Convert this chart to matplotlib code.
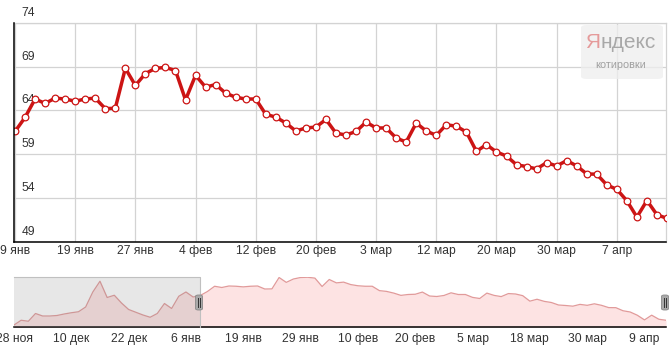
import matplotlib
matplotlib.use('Agg')
import matplotlib.pyplot as plt
from matplotlib.patches import FancyBboxPatch, Rectangle
import matplotlib.transforms as mtransforms

# ---------------- data ----------------
main_values = [61.6, 63.2, 65.3, 64.8, 65.4, 65.3, 65.05, 65.3, 65.4, 64.2,
               64.25, 68.8, 66.85, 68.2, 68.8, 68.9, 68.55, 65.2, 68.0, 66.65,
               66.95, 65.97, 65.5, 65.3, 65.3, 63.55, 63.24, 62.56, 61.65, 62.0,
               62.1, 62.97, 61.4, 61.2, 61.6, 62.67, 62.0, 62.0, 60.85, 60.4,
               62.56, 61.65, 61.16, 62.37, 62.2, 61.54, 59.34, 60.1, 59.26, 58.8,
               57.8, 57.6, 57.33, 58.05, 57.67, 58.28, 57.67, 56.76, 56.73, 55.5,
               55.0, 53.7, 51.84, 53.73, 52.1, 51.7]
pre_values = [49.8, 51.7, 51.3, 54.4, 53.4, 53.4, 53.6, 54.2, 54.7, 55.1,
              57.0, 63.0, 67.3, 60.8, 61.7, 58.6, 56.0, 54.9, 53.8, 52.9,
              54.4, 58.4, 56.4, 61.3, 63.0, 61.0]
main_tick_labels = ['9 янв', '19 янв', '27 янв', '4 фев', '12 фев', '20 фев',
                    '3 мар', '12 мар', '20 мар', '30 мар', '7 апр']
main_tick_step = 6
y_ticks = [49, 54, 59, 64, 69, 74]
nav_tick_labels = ['28 ноя', '10 дек', '22 дек', '6 янв', '19 янв', '29 янв',
                   '10 фев', '20 фев', '5 мар', '18 мар', '30 мар', '9 апр']
nav_tick_step = 8

# ---------------- style ----------------
W, H = 672, 352
FONT = ['Liberation Sans', 'DejaVu Sans']
plt.rcParams['font.family'] = FONT
TXT = '#333333'
GRID = '#d3d3d3'
RED = '#cc1414'

def fx(px):
    return px / W

def fy(py):
    return 1 - py / H

fig = plt.figure(figsize=(W / 100, H / 100), dpi=100)

# ---------------- main chart ----------------
ax = fig.add_axes([fx(14), fy(242), fx(666) - fx(14), fy(22.7) - fy(242)])
xs = list(range(len(main_values)))
ax.plot(xs, main_values, color=RED, lw=2.5, zorder=3, solid_joinstyle='round',
        marker='o', ms=4.8, mfc='white', mec=RED, mew=0.9)
ax.set_xlim(-0.1, 64.9)
ax.set_ylim(49, 74)
tick_pos = [i * main_tick_step for i in range(len(main_tick_labels))]
ax.set_xticks(tick_pos)
ax.set_xticklabels(main_tick_labels, fontsize=8.7, color=TXT)
ax.tick_params(axis='x', length=0, pad=2.5)
ax.set_yticks(y_ticks)
ax.set_yticklabels([])
ax.tick_params(axis='y', length=0)
ax.grid(True, color=GRID, lw=0.9, zorder=0)
for s in ['top', 'right']:
    ax.spines[s].set_color(GRID)
    ax.spines[s].set_linewidth(0.9)
for s in ['left', 'bottom']:
    ax.spines[s].set_color('black')
    ax.spines[s].set_linewidth(1.1)
    ax.spines[s].set_zorder(4)

trans = mtransforms.offset_copy(ax.get_yaxis_transform(), fig=fig, x=7.5 * 0.72, y=4 * 0.72, units='points')
for v in y_ticks:
    ax.text(0, v, str(v), transform=trans, ha='left', va='bottom',
            fontsize=8.7, color=TXT, zorder=2, clip_on=False)

# logo
box = FancyBboxPatch((fx(581), fy(79)), fx(663) - fx(581), fy(25) - fy(79),
                     boxstyle='round,pad=0,rounding_size=0.008',
                     transform=fig.transFigure, facecolor='#eeeeee', alpha=0.75,
                     edgecolor='none', zorder=5)
fig.patches.append(box)
fig.text(fx(600), fy(43), 'Я', fontsize=15, color='#e59a9a', ha='right', va='center',
         zorder=6)
fig.text(fx(600), fy(43), 'ндекс', fontsize=15, color='#a8a8a8', ha='left', va='center',
         zorder=6)
fig.text(fx(621), fy(65), 'котировки', fontsize=7.8, color='#a0a0a0', ha='center', va='center',
         zorder=6)

# ---------------- navigator ----------------
nav_values = pre_values + main_values
nav = fig.add_axes([fx(14), fy(327), fx(666) - fx(14), fy(277) - fy(327)])
nx = list(range(len(nav_values)))
nav.fill_between(nx, nav_values, 40, color='#fde3e3', lw=0, zorder=1)
nav.plot(nx, nav_values, color='#e19a9a', lw=0.9, zorder=2)
nav.set_xlim(0, len(nav_values) - 1)
nav.set_ylim(49.0, 69.0)
nav.set_yticks([])
nt = [i * nav_tick_step for i in range(len(nav_tick_labels))]
nav.set_xticks(nt)
nav.set_xticklabels(nav_tick_labels, fontsize=8.7, color=TXT)
nav.tick_params(axis='x', length=0, pad=4)
for s in ['top', 'right', 'left']:
    nav.spines[s].set_visible(False)
nav.spines['bottom'].set_color('black')
nav.spines['bottom'].set_linewidth(1.1)

sel = len(pre_values)
nav.add_patch(Rectangle((0, 40), sel, 29.0, facecolor='#888888', alpha=0.2,
                        edgecolor='none', zorder=3))
nav.plot([0, sel, sel], [69.0, 69.0, 49.0], color='#c0c0c0', lw=0.8, zorder=4, clip_on=False)

# handles
for hx in [fx(199), fx(665)]:
    hb = FancyBboxPatch((hx - fx(3.5), fy(310)), fx(7), fy(295) - fy(310),
                        boxstyle='round,pad=0,rounding_size=0.004',
                        transform=fig.transFigure, facecolor='#a9a9a9',
                        edgecolor='#888888', lw=0.6, zorder=7)
    fig.patches.append(hb)
    for dx in [-1.2, 1.2]:
        fig.lines.append(plt.Line2D([hx + fx(dx), hx + fx(dx)], [fy(298), fy(307)],
                                    transform=fig.transFigure, color='#333333', lw=0.7, zorder=8))

fig.savefig('out.png', dpi=100)
